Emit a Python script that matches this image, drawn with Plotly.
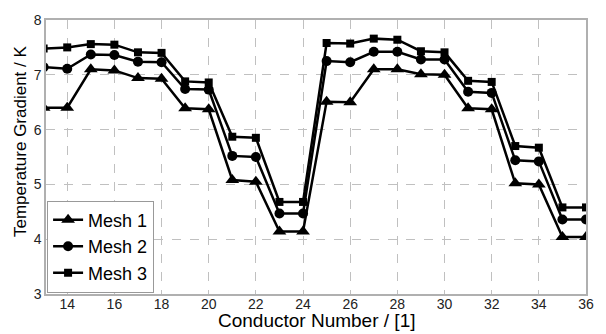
import plotly.graph_objects as go

conductors = list(range(13, 37))
mesh1 = [6.40, 6.40, 7.10, 7.08, 6.94, 6.93, 6.39, 6.37, 5.08, 5.05, 4.14, 4.14,
         6.51, 6.50, 7.10, 7.10, 7.01, 7.00, 6.39, 6.37, 5.02, 5.00, 4.04, 4.04]
mesh2 = [7.14, 7.11, 7.37, 7.36, 7.24, 7.23, 6.74, 6.73, 5.52, 5.50, 4.47, 4.47,
         7.25, 7.23, 7.42, 7.42, 7.28, 7.28, 6.69, 6.67, 5.44, 5.42, 4.36, 4.36]
mesh3 = [7.48, 7.50, 7.56, 7.55, 7.41, 7.40, 6.88, 6.86, 5.87, 5.85, 4.68, 4.68,
         7.58, 7.57, 7.66, 7.64, 7.43, 7.41, 6.89, 6.87, 5.70, 5.67, 4.58, 4.58]
series = [("Mesh 1", mesh1, "triangle-up", 12),
          ("Mesh 2", mesh2, "circle", 10),
          ("Mesh 3", mesh3, "square", 8)]
x_ticks = list(range(14, 37, 2))
y_ticks = [3, 4, 5, 6, 7, 8]

fig = go.Figure()
for name, vals, sym, sz in series:
    fig.add_trace(go.Scatter(
        x=conductors, y=vals, name=name, mode="lines+markers",
        line=dict(color="black", width=2.5),
        marker=dict(symbol=sym, size=sz, color="black"),
    ))

font = "Liberation Sans, Arial, sans-serif"
fig.update_layout(
    width=606, height=334,
    margin=dict(l=46, r=15, t=15, b=40),
    plot_bgcolor="white", paper_bgcolor="white",
    font=dict(family=font, color="black"),
    showlegend=True,
    legend=dict(x=0.002, y=0.005, xanchor="left", yanchor="bottom",
                bordercolor="#999999", borderwidth=1, bgcolor="white",
                font=dict(size=18, family=font), itemwidth=30,
                tracegroupgap=0),
    annotations=[
        dict(text="Temperature Gradient / K", xref="paper", yref="paper",
             x=-0.026, y=0.56, xanchor="right", yanchor="middle", textangle=-90,
             showarrow=False, font=dict(size=17, family=font, color="black")),
        dict(text="Conductor Number / [1]", xref="paper", yref="paper",
             x=0.5, y=-0.095, xanchor="center", yanchor="middle",
             showarrow=False, font=dict(size=19, family=font, color="black")),
    ],
)
fig.update_xaxes(
    range=[13.1, 36], tickvals=x_ticks, ticks="", showline=True, mirror=True,
    linecolor="#b0b0b0", linewidth=1.5,
    showgrid=True, gridcolor="#c0c0c0", griddash="dash", gridwidth=1,
    zeroline=False, tickfont=dict(size=14, color="#222222"),
    ticklabelstandoff=-4,
)
fig.update_yaxes(
    range=[3, 8], tickvals=y_ticks, ticks="", showline=True, mirror=True,
    linecolor="#b0b0b0", linewidth=1.5,
    showgrid=True, gridcolor="#c0c0c0", griddash="dash", gridwidth=1,
    zeroline=False, tickfont=dict(size=14, color="#222222"),
)
fig.write_html("out.html", config={"displayModeBar": False},
               post_script="document.body.style.margin='0';document.body.style.overflow='hidden';")
